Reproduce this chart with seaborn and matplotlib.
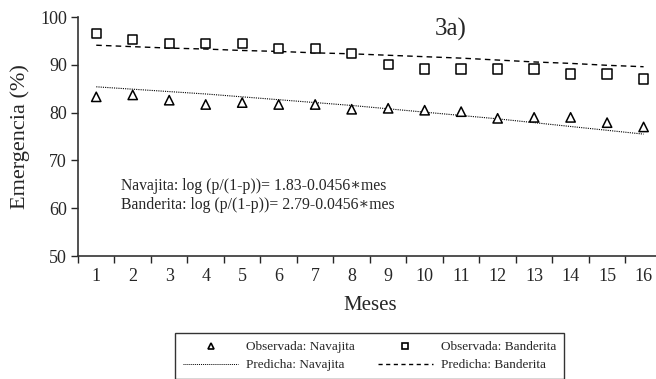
import numpy as np
import pandas as pd
import matplotlib
matplotlib.use('Agg')
import matplotlib.pyplot as plt
import seaborn as sns
from matplotlib.ticker import FixedLocator
from matplotlib.lines import Line2D

# values
MESES = list(range(1, 17))
obs_navajita = [83.3, 83.7, 82.6, 81.7, 82.1, 81.7, 81.7, 80.7,
                80.9, 80.5, 80.2, 78.8, 79.0, 79.0, 77.9, 77.0]
obs_banderita = [96.6, 95.3, 94.5, 94.5, 94.5, 93.4, 93.4, 92.4,
                 90.0, 89.1, 89.1, 89.1, 89.1, 88.1, 88.1, 87.0]
pred_navajita = [85.4, 84.9, 84.4, 83.9, 83.3, 82.7, 82.1, 81.5,
                 80.8, 80.1, 79.4, 78.7, 77.9, 77.1, 76.3, 75.5]
pred_banderita = [94.1, 93.8, 93.5, 93.3, 93.0, 92.8, 92.5, 92.3,
                  92.0, 91.7, 91.4, 91.0, 90.6, 90.3, 89.9, 89.6]

obs = pd.DataFrame({
    'mes': MESES * 2,
    'valor': obs_navajita + obs_banderita,
    'serie': ['Observada: Navajita'] * 16 + ['Observada: Banderita'] * 16,
})
pred = pd.DataFrame({
    'mes': MESES * 2,
    'valor': pred_navajita + pred_banderita,
    'serie': ['Predicha: Navajita'] * 16 + ['Predicha: Banderita'] * 16,
})

sns.set_style('ticks')
plt.rcParams['font.family'] = ['Liberation Serif', 'DejaVu Serif']

fig = plt.figure(figsize=(6.56, 3.79), dpi=100)
ax = fig.add_axes([0.1189, 0.3245, 0.890, 0.6306])

sns.lineplot(data=pred, x='mes', y='valor', hue='serie', style='serie',
             palette={'Predicha: Navajita': 'black', 'Predicha: Banderita': 'black'},
             dashes={'Predicha: Navajita': (1, 1), 'Predicha: Banderita': (4, 3)},
             size='serie', sizes={'Predicha: Navajita': 0.8, 'Predicha: Banderita': 1.0},
             legend=False, ax=ax)
sns.scatterplot(data=obs, x='mes', y='valor', style='serie',
                markers={'Observada: Navajita': '^', 'Observada: Banderita': 's'},
                facecolor='white', edgecolor='black', linewidth=1.1, s=45,
                legend=False, ax=ax, zorder=3)

ax.set_xlim(0.5, 16.5)
ax.set_ylim(50, 100)
ax.set_yticks([50, 60, 70, 80, 90, 100])
ax.set_xticks(MESES)
ax.xaxis.set_minor_locator(FixedLocator(np.arange(0.5, 17, 1)))
ax.tick_params(axis='x', which='major', length=0, pad=8.5, labelsize=13)
ax.tick_params(axis='x', which='minor', length=5, width=1, direction='out')
ax.tick_params(axis='y', length=5, width=1, direction='out', pad=3, labelsize=13)
sns.despine(ax=ax, right=True, top=True)
for s in ['left', 'bottom']:
    ax.spines[s].set_color('#333333')
    ax.spines[s].set_linewidth(1.2)

ax.set_xlabel('Meses', fontsize=15, labelpad=8)
ax.set_ylabel('Emergencia (%)', fontsize=16, labelpad=7)

ax.text(10.72, 97.3, '3a)', fontsize=18, ha='center', va='center')
ax.text(1.68, 64.6, 'Navajita: log (p/(1-p))= 1.83-0.0456\u2217mes',
        fontsize=11.3, va='center')
ax.text(1.68, 60.6, 'Banderita: log (p/(1-p))= 2.79-0.0456\u2217mes',
        fontsize=11.3, va='center')

# legend built from the same styles
h = [
    Line2D([], [], ls='none', marker='^', mfc='white', mec='black', ms=4.5, mew=1.2),
    Line2D([], [], color='black', lw=0.7, ls=(0, (1, 1))),
    Line2D([], [], ls='none', marker='s', mfc='white', mec='black', ms=4.5, mew=1.2),
    Line2D([], [], color='black', lw=1.0, ls=(0, (3, 2.5))),
]
lab = ['Observada: Navajita', 'Predicha: Navajita',
       'Observada: Banderita', 'Predicha: Banderita']
leg = fig.legend(h, lab, loc='upper left', bbox_to_anchor=(0.2668, 0.1214),
                 borderaxespad=0, ncol=2, fontsize=9.5, frameon=True,
                 fancybox=False, edgecolor='black', handlelength=4.2,
                 handletextpad=0.6, columnspacing=1.7, borderpad=0.6,
                 labelspacing=0.45)
leg.get_frame().set_linewidth(1.0)

fig.savefig('out.png', dpi=100)
